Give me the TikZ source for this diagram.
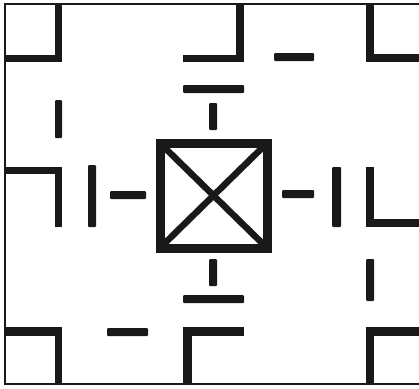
\documentclass[tikz,border=0pt]{standalone}
\begin{document}
\begin{tikzpicture}[x=1pt,y=-1pt,
  wall/.style={fill=black!90,draw=none},
  frame/.style={draw=black!90,line width=2pt},
  box/.style={draw=black!90,line width=9pt},
  diag/.style={draw=black!90,line width=6.5pt}]
\useasboundingbox (0,0) rectangle (419,388);
% outer frame (no right side)
\draw[frame] (419,4) -- (5,4) -- (5,384) -- (419,384);
% corner and wall pieces
\fill[wall] (5,55) rectangle (62,62);
\fill[wall] (55,4) rectangle (62,62);
\fill[wall] (183,55) rectangle (244,62);
\fill[wall] (236,4) rectangle (244,62);
\fill[wall] (366,4) rectangle (374,62);
\fill[wall] (366,54) rectangle (419,62);
\fill[wall,rounded corners=1pt] (274,53) rectangle (314,61);
\fill[wall,rounded corners=1pt] (183,85) rectangle (244,93);
\fill[wall,rounded corners=1pt] (209,103) rectangle (217,130);
\fill[wall,rounded corners=1pt] (55,100) rectangle (62,138);
% middle row
\fill[wall] (5,167) rectangle (62,174);
\fill[wall] (55,167) rectangle (62,227);
\fill[wall,rounded corners=1pt] (88,165) rectangle (96,227);
\fill[wall,rounded corners=1pt] (110,191) rectangle (146,199);
\fill[wall,rounded corners=1pt] (282,190) rectangle (314,198);
\fill[wall,rounded corners=1pt] (332,167) rectangle (341,227);
\fill[wall] (366,167) rectangle (374,227);
\fill[wall] (366,219) rectangle (419,227);
% centre square with cross
\draw[box] (160,143) rectangle (267.5,248.5);
\draw[diag] (164,147) -- (263,244);
\draw[diag] (263,147) -- (164,244);
% lower part
\fill[wall,rounded corners=1pt] (209,259) rectangle (217,286);
\fill[wall,rounded corners=1pt] (183,295) rectangle (244,303);
\fill[wall,rounded corners=1pt] (366,259) rectangle (374,301);
\fill[wall,rounded corners=1pt] (107,328) rectangle (148,336);
\fill[wall] (5,327) rectangle (62,336);
\fill[wall] (55,327) rectangle (62,384);
\fill[wall] (183,327) rectangle (244,336);
\fill[wall] (183,327) rectangle (192,384);
\fill[wall] (366,327) rectangle (374,384);
\fill[wall] (366,327) rectangle (419,336);
\end{tikzpicture}
\end{document}
